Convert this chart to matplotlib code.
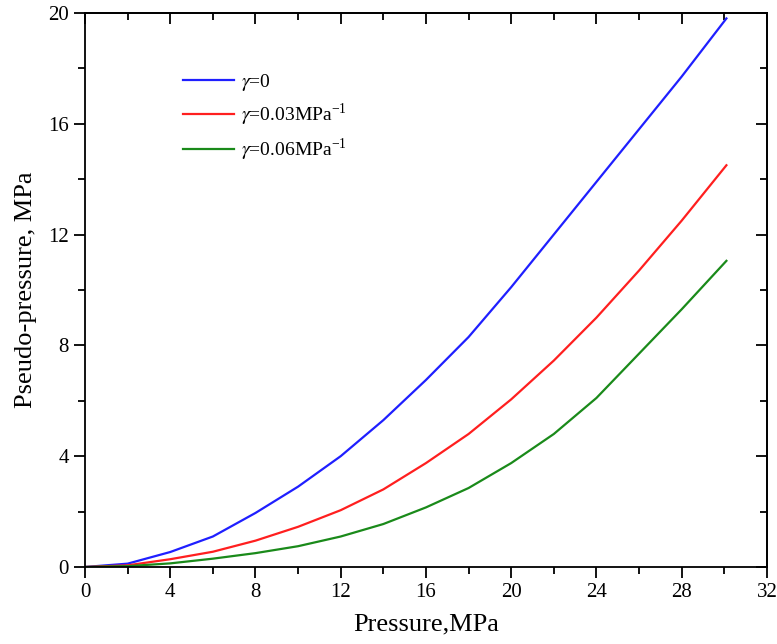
import numpy as np
import matplotlib
matplotlib.use("Agg")
import matplotlib.pyplot as plt
from matplotlib.ticker import MultipleLocator

plt.rcParams['font.family'] = ['Liberation Serif', 'DejaVu Serif']
plt.rcParams['mathtext.fontset'] = 'stix'

# pressure, MPa
pressure = [0, 2, 4, 6, 8, 10, 12, 14, 16, 18, 20, 22, 24, 26, 28, 30.1]
# pseudo-pressure, MPa
pp_g0 = [0, 0.12, 0.54, 1.1, 1.95, 2.9, 4.0, 5.3, 6.75, 8.3, 10.1, 12.0, 13.9, 15.8, 17.7, 19.8]
pp_g003 = [0, 0.06, 0.28, 0.55, 0.95, 1.45, 2.05, 2.8, 3.75, 4.8, 6.05, 7.45, 9.0, 10.7, 12.5, 14.5]
pp_g006 = [0, 0.03, 0.13, 0.3, 0.5, 0.75, 1.1, 1.55, 2.15, 2.85, 3.75, 4.8, 6.1, 7.7, 9.3, 11.05]

labels = [r'$\gamma$=0', r'$\gamma$=0.03MPa$^{\mathregular{-1}}$', r'$\gamma$=0.06MPa$^{\mathregular{-1}}$']
colors = ['#1f1fff', '#ff1f1f', '#1a8a1a']

fig = plt.figure(figsize=(7.77, 6.44), dpi=100)
ax = fig.add_axes([0.1094, 0.1196, 0.8776, 0.8604])

for y, lab, c in zip([pp_g0, pp_g003, pp_g006], labels, colors):
    ax.plot(pressure, y, color=c, lw=1.6, label=lab)

ax.set_xlim(0, 32)
ax.set_ylim(0, 20)
ax.xaxis.set_major_locator(MultipleLocator(4))
ax.xaxis.set_minor_locator(MultipleLocator(2))
ax.yaxis.set_major_locator(MultipleLocator(4))
ax.yaxis.set_minor_locator(MultipleLocator(2))
ax.tick_params(which='major', direction='out', length=8, width=1.3, labelsize=15)
ax.tick_params(which='minor', direction='out', length=5, width=1.3)
for s in ax.spines.values():
    s.set_linewidth(1.3)

# inward ticks on top and right
top = ax.secondary_xaxis('top')
top.xaxis.set_major_locator(MultipleLocator(4))
top.xaxis.set_minor_locator(MultipleLocator(2))
top.tick_params(which='major', direction='in', length=8, width=1.3, labeltop=False)
top.tick_params(which='minor', direction='in', length=5, width=1.3)
right = ax.secondary_yaxis('right')
right.yaxis.set_major_locator(MultipleLocator(4))
right.yaxis.set_minor_locator(MultipleLocator(2))
right.tick_params(which='major', direction='in', length=8, width=1.3, labelright=False)
right.tick_params(which='minor', direction='in', length=5, width=1.3)
top.spines['top'].set_linewidth(1.3)
right.spines['right'].set_linewidth(1.3)

ax.set_xlabel('Pressure,MPa', fontsize=19, labelpad=8)
ax.set_ylabel('Pseudo-pressure, MPa', fontsize=19, labelpad=8)

ax.legend(loc='upper left', bbox_to_anchor=(0.118, 0.925), frameon=False, fontsize=14,
          handlelength=2.6, handletextpad=0.4, labelspacing=0.45)

fig.savefig('out.png', dpi=100)
